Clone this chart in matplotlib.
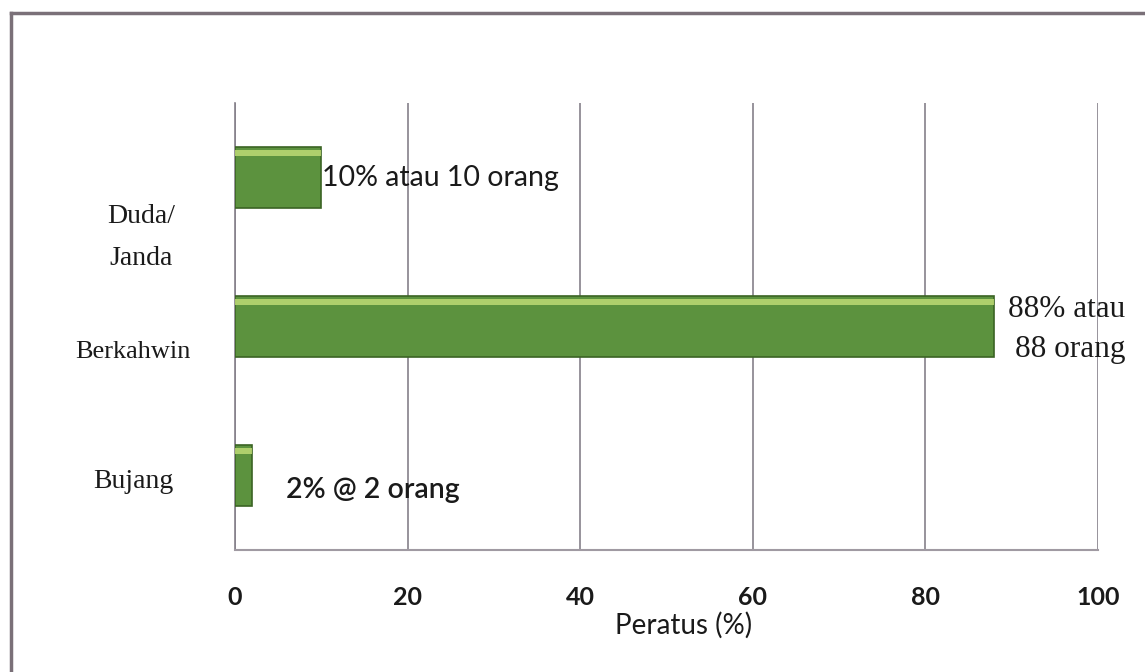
import matplotlib.pyplot as plt
from matplotlib.lines import Line2D

# data
categories = ['Bujang', 'Berkahwin', 'Duda/\nJanda']
values = [2, 88, 10]
bar_labels = ['2% @ 2 orang', '88% atau\n88 orang', '10% atau 10 orang']
xticks = [0, 20, 40, 60, 80, 100]

fig = plt.figure(figsize=(11.45, 6.72), dpi=100)
ax = fig.add_axes([0.2052, 0.1815, 0.7537, 0.6652])

pos = list(range(len(categories)))
ax.barh(pos, values, height=0.41, color='#5c923e', edgecolor='#3b6424', linewidth=1.2, zorder=3)
# light highlight along the top of each bar
ax.barh([p + 0.165 for p in pos], values, height=0.035, color='#c4df78', alpha=0.8,
        linewidth=0, zorder=4)

ax.set_xlim(0, 100)
ax.set_ylim(-0.5, 2.5)
ax.set_xticks(xticks)
ax.set_xticklabels([str(t) for t in xticks], family='Lato', fontsize=18, fontweight='bold',
                   color='#1a1a1a')
ax.tick_params(axis='x', length=0, pad=26)
ax.set_yticks([])

ax.grid(axis='x', color='#85808a', linewidth=1.2, zorder=0)
ax.grid(axis='y', visible=False)
for s in ['top', 'right']:
    ax.spines[s].set_visible(False)
ax.spines['left'].set_color('#85808a')
ax.spines['bottom'].set_color('#a09aa2')
ax.spines['left'].set_linewidth(1.2)
ax.spines['bottom'].set_linewidth(1.5)

ax.set_xlabel('Peratus (%)', family='Lato', fontsize=20, color='#1a1a1a')
ax.xaxis.set_label_coords(0.52, -0.138)

# category labels (placed by hand, as in the original)
label_y = [-0.04, 0.83, 1.6]
label_x = [-0.118, -0.118, -0.109]
label_size = [20, 19, 20]
for c, x, y, fs in zip(categories, label_x, label_y, label_size):
    ax.text(x, y, c, transform=ax.get_yaxis_transform(), ha='center', va='center',
            family='Liberation Serif', fontsize=fs, color='#1a1a1a', linespacing=1.9)

# value labels
ax.text(5.9, -0.1, bar_labels[0], ha='left', va='center', family='Lato',
        fontsize=20.5, fontweight='semibold', color='#1a1a1a', zorder=5)
ax.text(89.6, 0.98, bar_labels[1], ha='left', va='center', family='Liberation Serif',
        fontsize=22.5, color='#1a1a1a', linespacing=1.5, zorder=5, multialignment='right')
ax.text(10.1, 2.0, bar_labels[2], ha='left', va='center', family='Lato',
        fontsize=20.5, color='#1a1a1a', zorder=5)

# outer frame (left and top edges)
fig.add_artist(Line2D([0.0092, 0.0092], [0.0, 0.9807], transform=fig.transFigure,
                      color='#7a7078', linewidth=2.5))
fig.add_artist(Line2D([0.0092, 1.0], [0.9807, 0.9807], transform=fig.transFigure,
                      color='#7a7078', linewidth=2.5))

fig.savefig('out.png', dpi=100)
